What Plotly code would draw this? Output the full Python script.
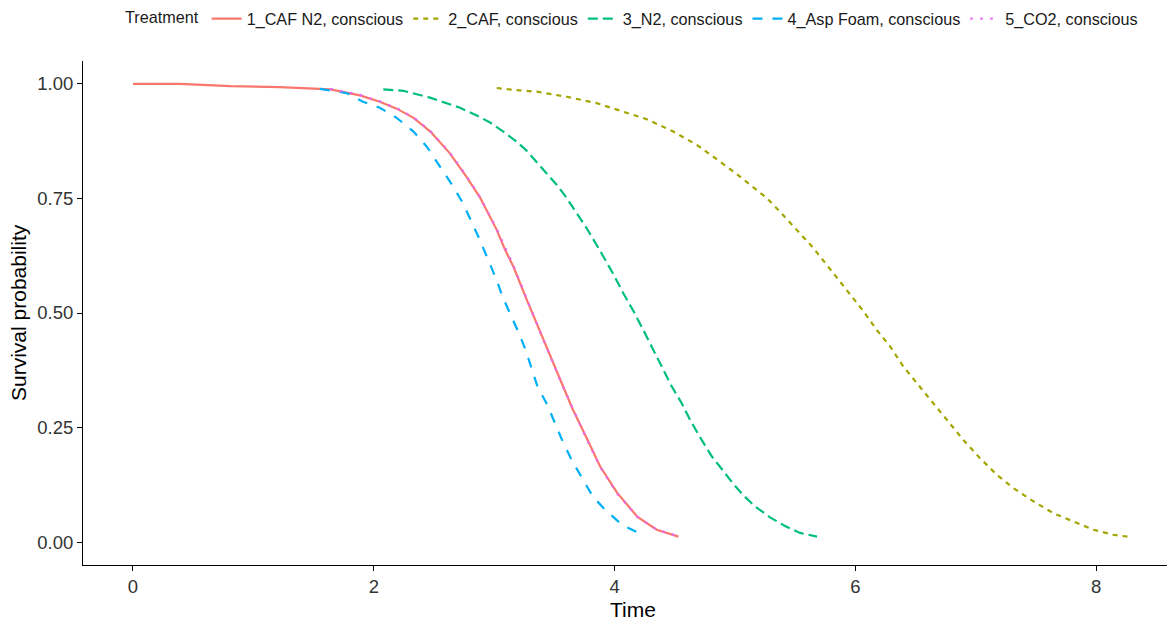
import plotly.graph_objects as go

# ---- data ----
caf_n2_time = [0, 0.39, 0.81, 1.22, 1.64, 1.885, 2.05, 2.19, 2.33, 2.47, 2.63, 2.77, 2.88, 3.02, 3.09, 3.16, 3.27, 3.41, 3.55, 3.65, 3.77, 3.88, 4.02, 4.19, 4.35, 4.53]
caf_n2_surv = [1.0, 1.0, 0.995, 0.993, 0.988, 0.975, 0.961, 0.946, 0.926, 0.896, 0.849, 0.797, 0.753, 0.682, 0.638, 0.601, 0.529, 0.442, 0.355, 0.291, 0.226, 0.165, 0.108, 0.055, 0.027, 0.012]

caf_time = [3.021, 3.159, 3.353, 3.602, 3.851, 4.072, 4.267, 4.488, 4.682, 4.820, 4.986, 5.125, 5.263, 5.374, 5.512, 5.650, 5.816, 5.955, 6.066, 6.177, 6.288, 6.398, 6.509, 6.647, 6.758, 6.896, 7.035, 7.174, 7.311, 7.478, 7.644, 7.810, 7.976, 8.142, 8.281]
caf_surv = [0.991, 0.987, 0.983, 0.972, 0.958, 0.940, 0.923, 0.896, 0.867, 0.841, 0.809, 0.780, 0.751, 0.721, 0.681, 0.642, 0.587, 0.540, 0.504, 0.463, 0.427, 0.383, 0.347, 0.303, 0.267, 0.223, 0.183, 0.147, 0.118, 0.089, 0.063, 0.045, 0.027, 0.016, 0.011]

n2_time = [2.079, 2.245, 2.467, 2.716, 2.855, 2.965, 3.076, 3.187, 3.270, 3.353, 3.436, 3.519, 3.602, 3.685, 3.768, 3.879, 3.989, 4.072, 4.155, 4.238, 4.308, 4.377, 4.474, 4.557, 4.626, 4.723, 4.807, 4.903, 4.986, 5.069, 5.166, 5.291, 5.415, 5.540, 5.681]
n2_surv = [0.988, 0.985, 0.970, 0.948, 0.931, 0.916, 0.896, 0.874, 0.854, 0.829, 0.805, 0.780, 0.751, 0.718, 0.685, 0.636, 0.585, 0.543, 0.505, 0.463, 0.427, 0.391, 0.340, 0.303, 0.267, 0.223, 0.187, 0.155, 0.127, 0.102, 0.078, 0.054, 0.035, 0.020, 0.012]

asp_time = [1.553, 1.775, 1.91, 2.05, 2.19, 2.33, 2.44, 2.55, 2.66, 2.74, 2.88, 2.95, 3.02, 3.07, 3.13, 3.20, 3.26, 3.31, 3.36, 3.44, 3.50, 3.57, 3.65, 3.74, 3.82, 3.92, 4.06, 4.23, 4.25]
asp_surv = [0.989, 0.980, 0.961, 0.948, 0.926, 0.896, 0.863, 0.820, 0.776, 0.740, 0.660, 0.616, 0.572, 0.535, 0.500, 0.459, 0.420, 0.380, 0.339, 0.300, 0.261, 0.219, 0.176, 0.136, 0.099, 0.071, 0.038, 0.016, 0.014]

co2_time = [1.64, 1.885, 2.05, 2.19, 2.33, 2.47, 2.63, 2.77, 2.88, 3.02, 3.16, 3.27, 3.41, 3.55, 3.66, 3.77, 3.88, 4.02, 4.19, 4.35, 4.54]
co2_surv = [0.989, 0.976, 0.962, 0.947, 0.927, 0.897, 0.851, 0.799, 0.754, 0.684, 0.603, 0.530, 0.440, 0.352, 0.288, 0.223, 0.164, 0.106, 0.055, 0.027, 0.012]

names = ["1_CAF N2, conscious", "2_CAF, conscious", "3_N2, conscious", "4_Asp Foam, conscious", "5_CO2, conscious"]
times = [caf_n2_time, caf_time, n2_time, asp_time, co2_time]
survs = [caf_n2_surv, caf_surv, n2_surv, asp_surv, co2_surv]
colors = ["#F8766D", "#A3A500", "#00BF7D", "#00B0F6", "#E76BF3"]
dashes = ["solid", "5px,5px", "10px,5px", "10px,10px", "2.5px,7.5px"]

x_ticks = [0, 2, 4, 6, 8]
y_ticks = [0, 0.25, 0.5, 0.75, 1.0]

fig = go.Figure()
for n, t, s, c, d in zip(names, times, survs, colors, dashes):
    fig.add_trace(go.Scatter(x=t, y=s, mode="lines", name=n,
                             line=dict(color=c, width=2.2, dash=d)))

# The page body has an 8px margin, so the figure is laid out 8px up/left.
OFF = 8
font_family = "Liberation Sans, Arial, sans-serif"
W, H = 1175 - OFF, 624 - OFF
L, R, T = 83 - OFF, 0, 61 - OFF
plot_bottom = 565 - OFF
B = H - plot_bottom
pw, ph = W - L - R, H - T - B

fig.update_layout(
    width=W, height=H,
    margin=dict(l=L, r=R, t=T, b=B, autoexpand=False),
    paper_bgcolor="white", plot_bgcolor="white",
    font=dict(family=font_family, color="#000000"),
    showlegend=True,
    legend=dict(
        orientation="h", x=(633 - OFF - L) / pw, xanchor="center",
        yref="container", y=1 - (19 - OFF) / H, yanchor="middle",
        title=dict(text="Treatment", side="left", font=dict(size=16.2, color="#1a1a1a")),
        font=dict(size=16.2, color="#1a1a1a"),
        itemwidth=30, tracegroupgap=0,
        bgcolor="rgba(0,0,0,0)",
    ),
    xaxis=dict(
        range=[-0.415, 8.654], tickmode="array", tickvals=x_ticks,
        ticktext=[str(v) for v in x_ticks], automargin=False,
        showgrid=False, zeroline=False, showline=True, linecolor="#000000", linewidth=1,
        ticks="outside", ticklen=5, tickcolor="#000000", tickwidth=1,
        tickfont=dict(size=18.5, color="#333333"),
    ),
    yaxis=dict(
        range=[-0.05, 1.05], tickmode="array", tickvals=y_ticks,
        ticktext=["%.2f" % v for v in y_ticks], automargin=False,
        showgrid=False, zeroline=False, showline=True, linecolor="#000000", linewidth=1,
        ticks="outside", ticklen=5, tickcolor="#000000", tickwidth=1,
        tickfont=dict(size=18.5, color="#333333"),
    ),
    annotations=[
        dict(text="Time", xref="paper", yref="paper", x=(633 - OFF - L) / pw,
             y=-(609 - OFF - plot_bottom) / ph,
             xanchor="center", yanchor="middle", showarrow=False,
             font=dict(size=21, color="#000000")),
        dict(text="Survival probability", xref="paper", yref="paper", x=(18 - OFF - L) / pw, y=0.5,
             xanchor="center", yanchor="middle", showarrow=False, textangle=-90,
             font=dict(size=21, color="#000000")),
    ],
)

fig.write_html("out.html")
